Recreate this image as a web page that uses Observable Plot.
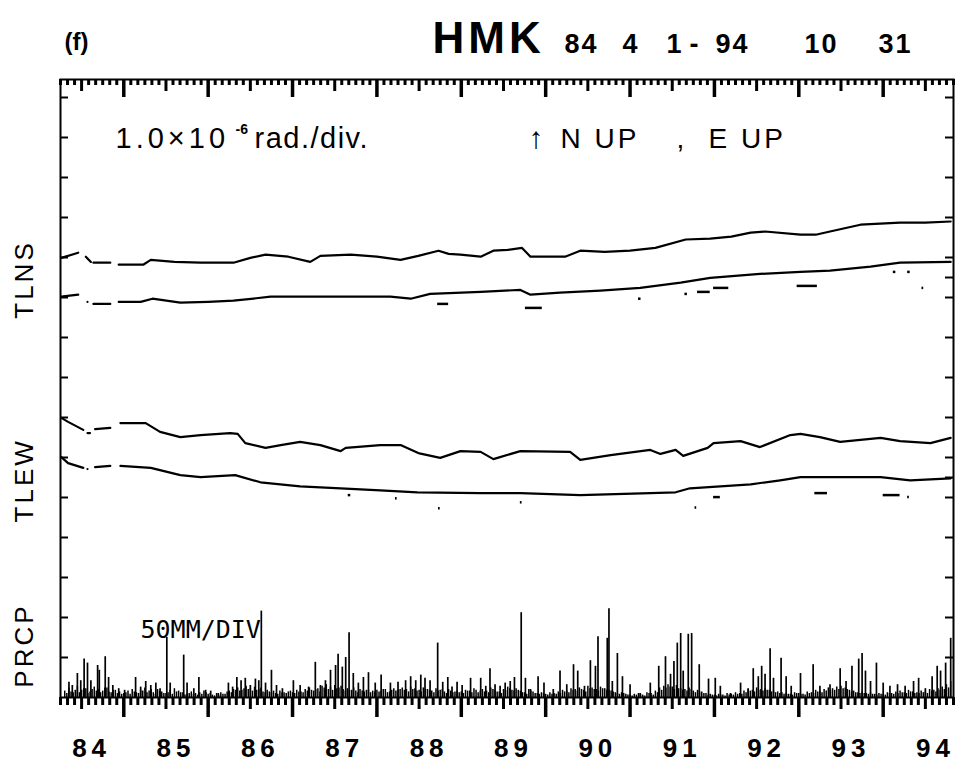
<!DOCTYPE html>
<html>
<head>
<meta charset="utf-8">
<script src="https://cdn.jsdelivr.net/npm/d3@7"></script>
<script src="https://cdn.jsdelivr.net/npm/@observablehq/plot@0.6"></script>
<style>
  body { margin: 0; background: #fff; }
  #chart svg { display: block; }
  g[aria-label="x-axis tick label"] text { letter-spacing: 5px; }
</style>
</head>
<body>
<div id="chart"></div>
<script>
// Borehole tiltmeter record at HMK, 1984-04-01 to 1994-10-31.
// Time in decimal years; tilt in microradians (1.0e-6 rad per division, arbitrary offsets);
// precipitation in mm (50 mm per division).

const station = "HMK";
const periodParts = ["84", "4", "1", "-", "94", "10", "31"];
const directionParts = ["↑", "N UP", ",", "E UP"];
const yearLabels = ["84", "85", "86", "87", "88", "89", "90", "91", "92", "93", "94"];
const panelLabels = ["TLNS", "TLEW", "PRCP"];

// N-S tilt, two components (null = gap in the record)
const tlnsUpper = [
  [1984.26, 10.99], [1984.46, 11.12], [1984.50, null], [1984.55, 11.02], [1984.61, 10.89], [1984.62, null],
  [1984.64, 10.87], [1984.84, 10.87], [1984.89, null], [1984.94, 10.82], [1985.23, 10.82], [1985.32, 10.94],
  [1985.60, 10.89], [1985.91, 10.87], [1986.30, 10.87], [1986.50, 10.99], [1986.68, 11.07], [1986.95, 11.02],
  [1987.21, 10.89], [1987.33, 11.04], [1987.69, 11.07], [1988.00, 11.02], [1988.28, 10.94], [1988.49, 11.04],
  [1988.73, 11.17], [1988.85, 11.09], [1988.99, 11.07], [1989.23, 11.02], [1989.38, 11.17], [1989.55, 11.19],
  [1989.72, 11.24], [1989.82, 11.02], [1990.23, 11.02], [1990.41, 11.17], [1990.70, 11.14], [1991.00, 11.17],
  [1991.30, 11.24], [1991.66, 11.45], [1991.95, 11.47], [1992.20, 11.52], [1992.43, 11.62], [1992.60, 11.65],
  [1993.02, 11.57], [1993.20, 11.57], [1993.37, 11.65], [1993.73, 11.82], [1994.20, 11.87], [1994.50, 11.87],
  [1994.80, 11.90]
];
const tlnsLower = [
  [1984.26, 10.02], [1984.46, 10.07], [1984.52, null], [1984.57, 9.89], [1984.60, null], [1984.64, 9.84],
  [1984.84, 9.84], [1984.89, null], [1984.94, 9.89], [1985.20, 9.89], [1985.34, 9.97], [1985.67, 9.87],
  [1986.00, 9.89], [1986.30, 9.92], [1986.74, 10.02], [1987.45, 10.02], [1988.16, 10.02], [1988.40, 9.97],
  [1988.63, 10.09], [1989.23, 10.14], [1989.70, 10.19], [1989.82, 10.07], [1990.17, 10.12], [1990.65, 10.17],
  [1991.12, 10.24], [1991.60, 10.37], [1991.95, 10.49], [1992.54, 10.59], [1993.02, 10.64], [1993.37, 10.67],
  [1993.85, 10.77], [1994.20, 10.87], [1994.80, 10.89]
];

// E-W tilt, two components
const tlewUpper = [
  [1984.26, 6.99], [1984.34, 6.89], [1984.52, 6.69], [1984.54, null], [1984.57, 6.61], [1984.60, 6.61],
  [1984.62, null], [1984.66, 6.71], [1984.84, 6.74], [1984.88, null], [1984.96, 6.86], [1985.26, 6.86],
  [1985.43, 6.64], [1985.67, 6.51], [1985.91, 6.56], [1986.26, 6.61], [1986.35, 6.59], [1986.44, 6.36],
  [1986.68, 6.24], [1986.86, 6.31], [1987.09, 6.39], [1987.33, 6.31], [1987.57, 6.16], [1987.63, 6.24],
  [1988.04, 6.31], [1988.28, 6.31], [1988.49, 6.11], [1988.75, 5.99], [1988.99, 6.16], [1989.23, 6.14],
  [1989.38, 5.96], [1989.70, 6.16], [1990.29, 6.14], [1990.41, 5.94], [1990.77, 6.06], [1991.24, 6.19],
  [1991.36, 6.09], [1991.54, 6.19], [1991.63, 6.04], [1991.92, 6.24], [1991.99, 6.36], [1992.31, 6.41],
  [1992.54, 6.26], [1992.90, 6.56], [1993.02, 6.59], [1993.25, 6.51], [1993.49, 6.39], [1993.97, 6.49],
  [1994.20, 6.41], [1994.56, 6.36], [1994.80, 6.49]
];
const tlewLower = [
  [1984.26, 6.01], [1984.34, 5.86], [1984.52, 5.74], [1984.54, null], [1984.57, 5.71], [1984.60, null],
  [1984.66, 5.76], [1984.84, 5.79], [1984.88, null], [1984.96, 5.79], [1985.32, 5.74], [1985.67, 5.56],
  [1985.91, 5.51], [1986.32, 5.56], [1986.62, 5.38], [1987.09, 5.28], [1987.57, 5.23], [1988.04, 5.18],
  [1988.48, 5.13], [1989.23, 5.11], [1989.70, 5.11], [1990.41, 5.06], [1991.24, 5.11], [1991.54, 5.13],
  [1991.71, 5.23], [1992.43, 5.33], [1992.78, 5.43], [1993.02, 5.51], [1993.61, 5.51], [1993.97, 5.51],
  [1994.32, 5.43], [1994.80, 5.48]
];

// Isolated off-trend readings: [start, end, tilt]
const tiltOutliers = [
  [1988.72, 1988.85, 9.84], [1989.76, 1989.96, 9.74], [1991.10, 1991.13, 9.97], [1991.65, 1991.68, 10.09],
  [1991.80, 1991.95, 10.14], [1991.99, 1992.17, 10.24], [1992.98, 1993.22, 10.29], [1994.12, 1994.15, 10.64],
  [1994.29, 1994.32, 10.64], [1994.46, 1994.48, 10.24],
  [1987.66, 1987.69, 5.06], [1988.22, 1988.24, 4.98], [1988.73, 1988.75, 4.73], [1989.70, 1989.72, 4.88],
  [1991.77, 1991.79, 4.75], [1991.99, 1992.07, 5.01], [1993.19, 1993.34, 5.11], [1994.00, 1994.20, 5.06],
  [1994.29, 1994.31, 5.01]
];

// Heavy-rain days: [time, mm]
const prcpPeaks = [
  [1984.35, 19], [1984.39, 15], [1984.45, 30], [1984.49, 21], [1984.53, 48], [1984.57, 43], [1984.61, 21],
  [1984.69, 40], [1984.71, 34], [1984.78, 51], [1984.82, 25], [1984.87, 15], [1984.94, 11], [1985.01, 9],
  [1985.14, 25], [1985.20, 13], [1985.26, 20], [1985.32, 15], [1985.38, 18], [1985.43, 11], [1985.51, 75],
  [1985.55, 18], [1985.71, 53], [1985.75, 18], [1985.83, 11], [1985.89, 25], [1985.97, 9], [1986.03, 8],
  [1986.12, 5], [1986.24, 18], [1986.29, 13], [1986.34, 25], [1986.39, 21], [1986.44, 24], [1986.50, 15],
  [1986.56, 23], [1986.60, 21], [1986.63, 108], [1986.68, 18], [1986.75, 34], [1986.81, 15], [1986.88, 11],
  [1987.01, 21], [1987.09, 15], [1987.19, 13], [1987.27, 44], [1987.33, 15], [1987.39, 21], [1987.45, 34],
  [1987.51, 40], [1987.54, 54], [1987.59, 38], [1987.63, 50], [1987.67, 81], [1987.72, 30], [1987.78, 18],
  [1987.84, 25], [1987.90, 31], [1987.98, 18], [1988.05, 28], [1988.16, 18], [1988.25, 19], [1988.34, 21],
  [1988.40, 26], [1988.46, 21], [1988.52, 28], [1988.57, 24], [1988.63, 21], [1988.72, 68], [1988.78, 19],
  [1988.84, 25], [1988.89, 13], [1988.95, 19], [1989.01, 15], [1989.11, 24], [1989.23, 24], [1989.29, 14],
  [1989.34, 36], [1989.40, 16], [1989.46, 14], [1989.52, 18], [1989.58, 20], [1989.63, 25], [1989.71, 106],
  [1989.76, 24], [1989.82, 10], [1989.91, 26], [1989.98, 18], [1990.09, 10], [1990.17, 33], [1990.25, 16],
  [1990.33, 41], [1990.38, 33], [1990.46, 14], [1990.53, 46], [1990.59, 39], [1990.62, 76], [1990.73, 74],
  [1990.75, 111], [1990.79, 20], [1990.85, 55], [1990.91, 26], [1991.00, 16], [1991.12, 5], [1991.24, 18],
  [1991.34, 39], [1991.42, 51], [1991.48, 29], [1991.52, 45], [1991.56, 68], [1991.60, 80], [1991.63, 33],
  [1991.69, 79], [1991.73, 80], [1991.82, 41], [1991.93, 23], [1992.01, 24], [1992.07, 14], [1992.19, 5],
  [1992.31, 18], [1992.40, 11], [1992.46, 36], [1992.52, 26], [1992.56, 39], [1992.60, 29], [1992.66, 61],
  [1992.70, 24], [1992.79, 49], [1992.85, 26], [1992.91, 14], [1993.02, 30], [1993.17, 41], [1993.25, 14],
  [1993.37, 16], [1993.49, 36], [1993.56, 20], [1993.63, 39], [1993.71, 48], [1993.75, 55], [1993.79, 33],
  [1993.85, 20], [1993.92, 43], [1994.00, 18], [1994.08, 14], [1994.17, 16], [1994.26, 14], [1994.36, 20],
  [1994.42, 24], [1994.50, 11], [1994.58, 26], [1994.64, 39], [1994.68, 33], [1994.74, 43], [1994.80, 74]
];

// Light-rain background, sampled every 0.025 yr from 1984.30
const prcpLightStart = 1984.30;
const prcpLightStep = 0.025;
const prcpLight = [
  8, 5, 12, 7, 6, 9, 14, 6, 9, 11, 11, 5, 7, 10, 13, 8, 10, 6, 8, 12, 12, 7, 6, 9, 9, 5, 7, 4,
  5, 6, 8, 4, 10, 7, 6, 5, 9, 8, 12, 6, 8, 10, 6, 4, 10, 8, 7, 5, 5, 6, 9, 4, 11, 7, 8, 6, 6, 3, 4, 5, 7, 4, 5, 3, 6, 4, 8, 6,
  4, 5, 3, 2, 5, 3, 6, 4, 4, 7, 8, 6, 10, 9, 12, 8, 9, 11, 14, 10, 11, 8, 13, 9, 10, 12, 7, 6, 9, 7, 6, 8, 5, 4, 8, 6, 6, 5, 7, 8,
  6, 5, 9, 7, 7, 6, 10, 8, 12, 9, 8, 10, 11, 7, 14, 12, 16, 10, 13, 9, 15, 11, 12, 14, 10, 8, 11, 9, 9, 12, 8, 6, 10, 8, 7, 9, 9, 6, 8, 7,
  9, 7, 8, 10, 10, 6, 7, 9, 11, 8, 9, 10, 12, 9, 10, 7, 13, 10, 11, 8, 9, 7, 12, 10, 10, 9, 8, 6, 11, 8, 9, 10, 7, 5, 10, 8, 6, 7, 8, 6,
  7, 5, 9, 8, 8, 6, 11, 9, 6, 8, 10, 7, 8, 6, 12, 10, 9, 7, 7, 5, 10, 9, 13, 11, 9, 8, 11, 9, 8, 6, 6, 4, 10, 8, 7, 5, 5, 4, 6, 5,
  4, 3, 6, 4, 5, 4, 7, 5, 9, 7, 8, 6, 11, 9, 10, 8, 12, 10, 9, 7, 14, 11, 12, 10, 10, 8, 13, 11, 11, 9, 9, 8, 7, 6, 5, 4, 6, 5, 4, 3,
  3, 2, 4, 3, 5, 4, 3, 2, 6, 5, 5, 3, 8, 6, 12, 9, 14, 12, 16, 13, 13, 10, 15, 11, 11, 9, 10, 8, 12, 10, 8, 6, 9, 7, 7, 5, 5, 3, 4, 3,
  3, 2, 4, 3, 3, 2, 5, 3, 4, 3, 6, 4, 5, 4, 8, 6, 10, 8, 9, 7, 12, 9, 10, 8, 11, 9, 9, 7, 8, 6, 7, 5, 6, 4, 5, 4, 4, 3, 6, 5,
  5, 4, 4, 3, 7, 5, 6, 5, 9, 7, 8, 6, 10, 8, 12, 9, 11, 9, 13, 10, 14, 11, 12, 10, 9, 7, 8, 6, 6, 5, 7, 5, 5, 4, 6, 4, 4, 3, 5, 4,
  4, 3, 6, 5, 5, 4, 7, 5, 8, 6, 6, 5, 9, 7, 7, 5, 6, 5, 8, 6, 7, 5, 10, 8, 9, 7, 11, 9, 13, 10, 16, 12, 20
];

const MM_PER_DIV = 50;
const tStart = 1984 + 3 / 12;  // 1984-04-01
const tEnd = 1994 + 10 / 12;   // 1994-10-31
const yTop = 15.45;            // divisions shown above the rain baseline

const W = 960, H = 776, ML = 60, MR = 7, MT = 79, MB = 79;
const pxPerYear = (W - ML - MR) / (tEnd - tStart);
const pxPerDiv = (H - MT - MB) / yTop;

// Calendar ticks: month starts, with longer July and January ticks
const monthKind = (t) => {
  const m = Math.round((t - Math.floor(t + 1e-6)) * 12);
  return m === 0 ? "jan" : m === 6 ? "jul" : "month";
};
const monthStarts = d3.range(0, 128).map(i => tStart + i / 12).filter(t => t <= tEnd + 1e-6);
const julTicks = d3.range(1984, 1995).map(y => y + 0.5);

const topLen = {month: 6, jul: 12, jan: 18};
const bottomLen = {month: 8, jul: 12, jan: 20};
const tickWidth = {month: 3, jul: 3, jan: 3.5};
const calendarTicks = monthStarts.map(t => ({t, kind: monthKind(t)}));

const lightRows = prcpLight.map((v, i) => [prcpLightStart + i * prcpLightStep, v]);

const font = "Liberation Sans, Arial, sans-serif";
const line = (data) => Plot.line(data, {x: d => d[0], y: d => d[1], stroke: "black", strokeWidth: 2.2, curve: "linear"});

const note = (text, dx, dy, opts = {}) => Plot.text([text], {frameAnchor: "top-left", dx, dy,
  textAnchor: "start", lineAnchor: "bottom", ...opts});

const chart = Plot.plot({
  width: W,
  height: H,
  marginLeft: ML,
  marginRight: MR,
  marginTop: MT,
  marginBottom: MB,
  style: {fontFamily: font, background: "white", color: "black", overflow: "visible"},
  x: {type: "linear", domain: [tStart, tEnd], axis: null},
  y: {type: "linear", domain: [0, yTop], axis: null},
  marks: [
    // precipitation bars, 50 mm per division
    Plot.ruleX(lightRows, {x: d => d[0], y1: 0, y2: d => d[1] / MM_PER_DIV, stroke: "black", strokeWidth: 1.5}),
    Plot.ruleX(prcpPeaks, {x: d => d[0], y1: 0, y2: d => d[1] / MM_PER_DIV, stroke: "black", strokeWidth: 1.7}),

    // tilt traces
    line(tlnsUpper), line(tlnsLower), line(tlewUpper), line(tlewLower),
    Plot.ruleY(tiltOutliers, {x1: d => d[0], x2: d => d[1], y: d => d[2], stroke: "black", strokeWidth: 2.5}),

    Plot.frame({stroke: "black", strokeWidth: 2}),

    // calendar ticks: hanging inside from the top edge, and below the baseline
    Plot.ruleX(calendarTicks, {x: d => d.t, y1: d => yTop, y2: d => yTop - topLen[d.kind] / pxPerDiv,
      stroke: "black", strokeWidth: d => tickWidth[d.kind]}),
    Plot.ruleX(calendarTicks, {x: d => d.t, y1: d => 0, y2: d => -bottomLen[d.kind] / pxPerDiv,
      stroke: "black", strokeWidth: d => tickWidth[d.kind]}),
    // division ticks, inside on both sides
    Plot.ruleY(d3.range(1, 16), {y: d => d, x1: tStart, x2: tStart + 8 / pxPerYear, stroke: "black", strokeWidth: 2}),
    Plot.ruleY(d3.range(1, 16).concat([5.5, 10.5]), {y: d => d, x1: tEnd - 8 / pxPerYear, x2: tEnd, stroke: "black", strokeWidth: 2}),

    // year labels
    Plot.axisX(julTicks, {anchor: "bottom", tickSize: 0, tickPadding: 41, dx: 10,
      tickFormat: (d, i) => yearLabels[i], fontSize: 26, fontWeight: "bold", label: null}),

    // panel labels
    Plot.text(panelLabels, {y: [10.45, 5.43, 1.3], frameAnchor: "left", dx: -36, rotate: -90,
      textAnchor: "middle", lineAnchor: "middle", fontSize: 26}),

    // heading
    note("(f)", 4, -30, {fontSize: 24, fontWeight: "bold"}),
    note(station, 372, -27, {fontSize: 44, fontWeight: "bold"}),
    ...periodParts.map((t, i) => note(t, [504, 562, 606, 629, 655, 744, 818][i], -27, {fontSize: 27, fontWeight: "bold"})),

    // scale and polarity notes
    note("1.0×10", 55, 68, {fontSize: 29}),
    note("-6", 175, 54, {fontSize: 14, fontWeight: "bold"}),
    note("rad./div.", 194, 68, {fontSize: 29}),
    ...directionParts.map((t, i) => note(t, [468, 500, 616, 648][i], 68, {fontSize: i === 0 ? 30 : 28})),

    // precipitation scale
    Plot.text(["50MM/DIV"], {frameAnchor: "bottom-left", dx: 80, dy: -60, textAnchor: "start", lineAnchor: "bottom",
      fontSize: 25, fontFamily: "DejaVu Sans Mono, monospace"})
  ]
});

// letter spacing of the typed annotations
const spacing = new Map([
  ["HMK", 4], ["1.0×10", 4], ["rad./div.", 1.5], ["N UP", 3], ["E UP", 3],
  ["TLNS", 3], ["TLEW", 3], ["PRCP", 3], ["84", 2], ["94", 2], ["10", 2], ["31", 2]
]);
d3.select(chart).selectAll("text").each(function () {
  if (this.closest('g[aria-label="x-axis tick label"]')) return;
  const s = spacing.get(this.textContent);
  if (s != null) this.style.letterSpacing = s + "px";
});

document.getElementById("chart").append(chart);
</script>
</body>
</html>
